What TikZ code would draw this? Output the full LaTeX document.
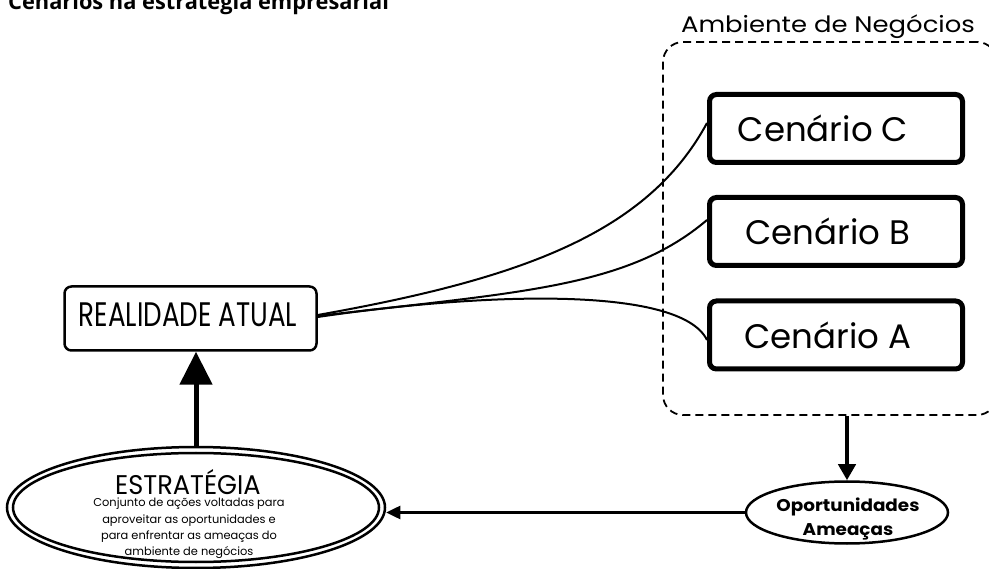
\documentclass[tikz,border=0pt]{standalone}
\usepackage{fontspec}
\usetikzlibrary{shapes.geometric,arrows.meta,calc}
\setmainfont{Poppins}
\newfontfamily\titlefont{Open Sans}
\newfontfamily\realfont[FakeStretch=0.77]{Poppins}
\newfontfamily\estrfont[FakeStretch=0.95]{Poppins}
\newfontfamily\widefont[FakeStretch=1.15]{Poppins}
\newfontfamily\oppfont[FakeStretch=1.08]{Poppins}
\begin{document}
\begin{tikzpicture}[x=1pt,y=-1pt,
  cenbox/.style={draw, line width=5pt, rounded corners=7pt, minimum width=253pt, minimum height=68pt, inner sep=0pt},
  centext/.style={inner sep=0pt, font=\fontsize{34}{40}\selectfont},
  conn/.style={line width=2pt},
  txt/.style={inner sep=0pt, anchor=base},
  desc/.style={txt, text height=8pt, text depth=2.5pt, font=\fontsize{11.4}{14}\selectfont}
]
\useasboundingbox (0,0) rectangle (989,569);
% title
\node[txt, anchor=base west, font=\titlefont\bfseries\fontsize{21.8}{24}\selectfont] (title) at (8,10) {Cenários na estratégia empresarial};
% environment box
\node[draw, dash pattern=on 8pt off 5pt, line width=1.8pt, rounded corners=20pt, minimum width=334pt, minimum height=373pt, inner sep=0pt] (amb) at (830,228.5) {};
\node[txt, font=\widefont\fontsize{22.5}{26}\selectfont] (ambl) at (828,33) {Ambiente de Negócios};
% scenarios
\node[cenbox] (cC) at (836,128.5) {};
\node[cenbox] (cB) at (836,231.5) {};
\node[cenbox] (cA) at (836,335) {};
\node[centext] (tC) at (823,128.5) {Cenário C};
\node[centext] (tB) at (828,231.5) {Cenário B};
\node[centext] (tA) at (828,335) {Cenário A};
% current reality
\node[draw, line width=2.5pt, rounded corners=7pt, minimum width=252pt, minimum height=64pt, inner sep=0pt] (real) at (190.5,318.5) {};
\node[txt, font=\realfont\fontsize{34}{38}\selectfont] (realt) at (188,327) {REALIDADE ATUAL};
% strategy ellipse
\node[draw, ellipse, line width=2.5pt, minimum width=378pt, minimum height=121pt, inner sep=0pt] (estr) at (196,507.5) {};
\draw[line width=2.5pt] (estr.center) ellipse [x radius=183, y radius=54.5];
\node[txt, text depth=0pt, font=\estrfont\fontsize{27}{30}\selectfont] (estrt) at (188,494) {ESTRATÉGIA};
\node[desc] (d1) at (189,507) {Conjunto de ações voltadas para};
\node[desc] (d2) at (189,523) {aproveitar as oportunidades e};
\node[desc] (d3) at (189,539) {para enfrentar as ameaças do};
\node[desc] (d4) at (189,555) {ambiente de negócios};
% opportunities ellipse
\node[draw, ellipse, line width=2.5pt, minimum width=202pt, minimum height=62pt, inner sep=0pt] (opp) at (847,512.5) {};
\node[txt, font=\oppfont\bfseries\fontsize{17}{20}\selectfont] (oppt1) at (848,511.5) {Oportunidades};
\node[txt, font=\oppfont\bfseries\fontsize{17}{20}\selectfont] (oppt2) at (848,535.5) {Ameaças};
% connectors
\draw[conn] ($(real.east)+(0,-3.5)$) .. controls (520,279) and (647,234) .. ($(cC.west)+(0,-5.5)$);
\draw[conn] ($(real.east)+(0,-2.5)$) .. controls (520,292) and (627,288) .. ($(cB.west)+(0,-11.5)$);
\draw[conn] ($(real.east)+(0,-1.5)$) .. controls (480,293) and (680,285) .. ($(cA.west)+(0,5)$);
\draw[line width=5pt, -{Triangle[width=32pt,length=33pt]}] (estr.north) -- (estr.north |- real.south);
\draw[line width=4pt, -{Triangle[width=17pt,length=16pt]}] (amb.south -| opp.north) -- (opp.north);
\draw[line width=2.5pt, -{Triangle[width=13pt,length=14pt]}] (opp.west) -- (estr.east |- opp.west);
\end{tikzpicture}
\end{document}
